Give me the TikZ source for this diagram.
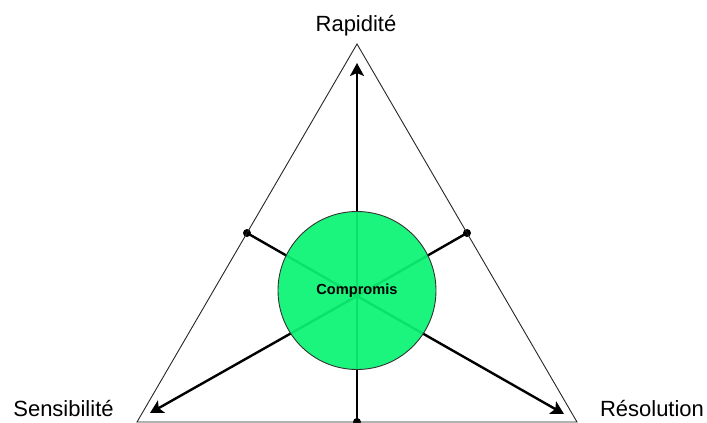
\documentclass[tikz,border=0pt]{standalone}
\usepackage{fontspec}
\setmainfont{Liberation Sans}
\usetikzlibrary{arrows.meta}
\definecolor{compgreen}{RGB}{10,243,115}
\tikzset{
  tri/.style={draw=black!85, line width=0.9pt},
  axis/.style={draw=black, line width=2.4pt},
  axarrow/.style={axis, -{Stealth[length=13pt,width=14pt,inset=3pt]}},
  midpt/.style={circle, fill=black, inner sep=0pt, minimum size=8pt},
  lbl/.style={font=\fontsize{22}{26}\selectfont, inner sep=0pt},
  compnode/.style={circle, minimum size=158pt, inner sep=0pt, fill=compgreen, fill opacity=0.93, text opacity=1, draw=black!80, line width=0.9pt, font=\bfseries\fontsize{14.6}{17}\selectfont}
}
\begin{document}
\begin{tikzpicture}[x=1pt,y=-1pt]
\useasboundingbox (0,0) rectangle (707,423);
% triangle corners
\coordinate (A) at (357,44);
\coordinate (B) at (137,422);
\coordinate (C) at (577,422);
\coordinate (O) at (357,296);
% midpoints
\node[midpt] (mAB) at (247,233) {};
\node[midpt] (mAC) at (467,233) {};
\node[midpt] (mBC) at (357,422) {};
% arrow tips
\coordinate (tA) at (357,63);
\coordinate (tB) at (150,413);
\coordinate (tC) at (564,414);
\draw[tri] (A) -- (B) -- (C) -- cycle;
\draw[axis] (O) -- (mAB.center);
\draw[axis] (O) -- (mAC.center);
\draw[axis] (O) -- (mBC.center);
\draw[axarrow] (O) -- (tA);
\draw[axarrow] (O) -- (tB);
\draw[axarrow] (O) -- (tC);
\node[compnode] (comp) at (357,290.5) {Compromis};
\node[lbl] (rap) at (356,26) {Rapidité};
\node[lbl, anchor=base] (sens) at (63.5,416) {Sensibilité};
\node[lbl, anchor=base] (reso) at (652,416) {Résolution};
\end{tikzpicture}
\end{document}
